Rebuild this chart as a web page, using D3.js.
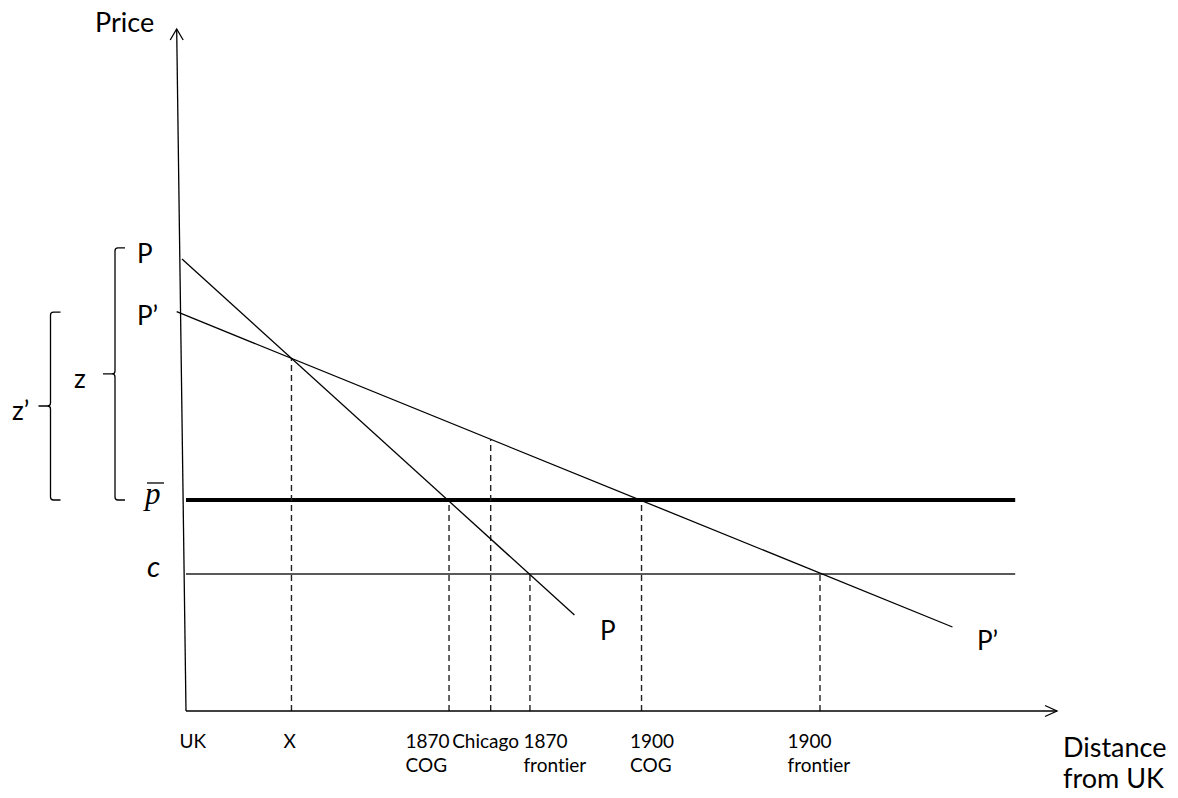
<!DOCTYPE html>
<html><head><meta charset="utf-8">
<script src="https://cdn.jsdelivr.net/npm/d3@7"></script>
<style>html,body{margin:0;padding:0;background:#fff;} svg{display:block;}</style>
</head><body><svg id="chart" width="1178" height="798"></svg>
<script>
// ---------------- data ----------------
const levelNames = ["pbar", "c"];
const levelValues = [30.94, 20.09];
const levelExtent = [0, 95.2];

const curveNames = ["P", "P’"];
const curveStart = [[-0.46, 66.28], [-1.07, 58.55]];
const curveEnd = [[44.60, 14.08], [88.00, 12.32]];

const markerLabels = [["UK"], ["X"], ["1870", "COG"], ["Chicago"], ["1870", "frontier"], ["1900", "COG"], ["1900", "frontier"]];
const markerDistances = [0, 12.11, 30.20, 34.98, 39.49, 52.30, 72.79];
const markerTops = [null, "P’", "pbar", "P’", "c", "pbar", "c"];

const braceLabels = ["z", "z’"];
const braceTops = [67.9, 58.5];
const braceBottoms = ["pbar", "pbar"];

const yAxisTop = [-1.07, 100];
const xAxisEnd = [100, 0];
const axisTitleY = ["Price"];
const axisTitleX = ["Distance", "from UK"];

// ---------------- layout ----------------
const svg = d3.select("#chart");
const x = d3.scaleLinear().domain([0, 100]).range([186, 1057]);
const y = d3.scaleLinear().domain([0, 100]).range([711, 29]);
const sans = "Lato, 'Open Sans', sans-serif";

const levelOf = n => levelValues[levelNames.indexOf(n)];
function curveAt(name, d) {
  const i = curveNames.indexOf(name);
  const [x0, y0] = curveStart[i], [x1, y1] = curveEnd[i];
  return y0 + (y1 - y0) * (d - x0) / (x1 - x0);
}
function topOf(key, d) {
  if (levelNames.includes(key)) return levelOf(key);
  return curveAt(key, d);
}

// horizontal levels
levelNames.forEach((n, i) => {
  svg.append("line")
    .attr("x1", x(levelExtent[0])).attr("x2", x(levelExtent[1]))
    .attr("y1", y(levelValues[i])).attr("y2", y(levelValues[i]))
    .attr("stroke", n === "pbar" ? "#000" : "#222")
    .attr("stroke-width", n === "pbar" ? 4 : 1.3);
});

// dashed verticals
markerDistances.forEach((d, i) => {
  if (!markerTops[i]) return;
  svg.append("line")
    .attr("x1", x(d)).attr("x2", x(d))
    .attr("y1", y(0)).attr("y2", y(topOf(markerTops[i], d)))
    .attr("stroke", "#222").attr("stroke-width", 1.4)
    .attr("stroke-dasharray", "6,4");
});

// curves
curveNames.forEach((n, i) => {
  svg.append("path")
    .attr("d", d3.line().x(p => x(p[0])).y(p => y(p[1]))([curveStart[i], curveEnd[i]]))
    .attr("fill", "none").attr("stroke", "#000").attr("stroke-width", 1.3);
});

// y axis (slightly leaning) with open arrowhead
const yb = [x(0), y(0)], yt = [x(yAxisTop[0]), y(yAxisTop[1])];
svg.append("line").attr("x1", yb[0]).attr("y1", yb[1]).attr("x2", yt[0]).attr("y2", yt[1])
  .attr("stroke", "#000").attr("stroke-width", 1.3);
svg.append("path")
  .attr("d", `M${yt[0] - 6.5},${yt[1] + 11}L${yt[0]},${yt[1]}L${yt[0] + 6.5},${yt[1] + 11}`)
  .attr("fill", "none").attr("stroke", "#000").attr("stroke-width", 1.3);

// x axis
const xe = [x(xAxisEnd[0]), y(xAxisEnd[1])];
svg.append("line").attr("x1", x(0)).attr("y1", y(0)).attr("x2", xe[0]).attr("y2", xe[1])
  .attr("stroke", "#000").attr("stroke-width", 1.3);
svg.append("path")
  .attr("d", `M${xe[0] - 12},${xe[1] - 5.5}L${xe[0]},${xe[1]}L${xe[0] - 12},${xe[1] + 5.5}`)
  .attr("fill", "none").attr("stroke", "#000").attr("stroke-width", 1.3);

// tick labels via d3 axis
const nudges = [-7, -8.5, -44, -39, -7, -12, -33];
const xAxis = d3.axisBottom(x).tickValues(markerDistances).tickSize(0).tickFormat("");
const gx = svg.append("g").attr("transform", `translate(0,${y(0)})`).call(xAxis);
gx.select(".domain").remove();
gx.selectAll(".tick").each(function (d, i) {
  const t = d3.select(this).select("text");
  t.attr("text-anchor", "start").attr("dy", null).attr("y", 0)
    .attr("font-family", sans).attr("font-size", 19).attr("fill", "#000")
    .style("font-variant-ligatures", "none");
  markerLabels[i].forEach((s, k) => {
    t.append("tspan").attr("x", nudges[i]).attr("y", 37 + k * 24).text(s);
  });
});

// axis titles
svg.append("text").attr("x", 95).attr("y", 32).attr("font-family", sans).attr("font-size", 27)
  .text(axisTitleY[0]);
axisTitleX.forEach((s, k) => {
  svg.append("text").attr("x", 1063).attr("y", 757 + k * 31).attr("font-family", sans)
    .attr("font-size", 27).text(s);
});

// curve labels
svg.append("text").attr("x", 137).attr("y", y(curveStart[0][1]) + 4).attr("font-family", sans)
  .attr("font-size", 26).text(curveNames[0]);
svg.append("text").attr("x", 137).attr("y", y(curveStart[1][1]) + 13).attr("font-family", sans)
  .attr("font-size", 26).text(curveNames[1]);
svg.append("text").attr("x", 600).attr("y", y(curveEnd[0][1]) + 25).attr("font-family", sans)
  .attr("font-size", 26).text(curveNames[0]);
svg.append("text").attr("x", 977).attr("y", y(curveEnd[1][1]) + 23).attr("font-family", sans)
  .attr("font-size", 26).text(curveNames[1]);

// level labels: p-bar and c
const pbY = y(levelOf("pbar"));
svg.append("text").attr("x", 145).attr("y", pbY + 4).attr("font-family", "'Liberation Serif', 'DejaVu Serif', serif")
  .attr("font-style", "italic").attr("font-size", 31).text("p");
svg.append("line").attr("x1", 147).attr("x2", 164).attr("y1", pbY - 17).attr("y2", pbY - 17)
  .attr("stroke", "#000").attr("stroke-width", 1.3);
svg.append("text").attr("x", 147).attr("y", y(levelOf("c")) + 3).attr("font-family", sans)
  .attr("font-style", "italic").attr("font-size", 29).text("c");

// braces
const braceX = [115, 50.5];
const labelX = [74, 12];
const labelDy = [14, 14];
function bracePath(bx, yTop, yBot, hook, tick) {
  const m = (yTop + yBot) / 2, r = 3;
  return `M${bx + hook},${yTop}L${bx + r},${yTop}Q${bx},${yTop} ${bx},${yTop + r}` +
    `L${bx},${m - r}Q${bx},${m} ${bx - r},${m}L${bx - tick},${m}` +
    `M${bx - r},${m}Q${bx},${m} ${bx},${m + r}L${bx},${yBot - r}Q${bx},${yBot} ${bx + r},${yBot}L${bx + hook},${yBot}`;
}
braceLabels.forEach((lab, i) => {
  const yTop = y(braceTops[i]), yBot = y(levelOf(braceBottoms[i]));
  svg.append("path").attr("d", bracePath(braceX[i], yTop, yBot, 10, 12))
    .attr("fill", "none").attr("stroke", "#000").attr("stroke-width", 1.3);
  svg.append("text").attr("x", labelX[i]).attr("y", (yTop + yBot) / 2 + labelDy[i])
    .attr("font-family", sans).attr("font-size", 26).text(lab);
});
</script>
</body></html>
